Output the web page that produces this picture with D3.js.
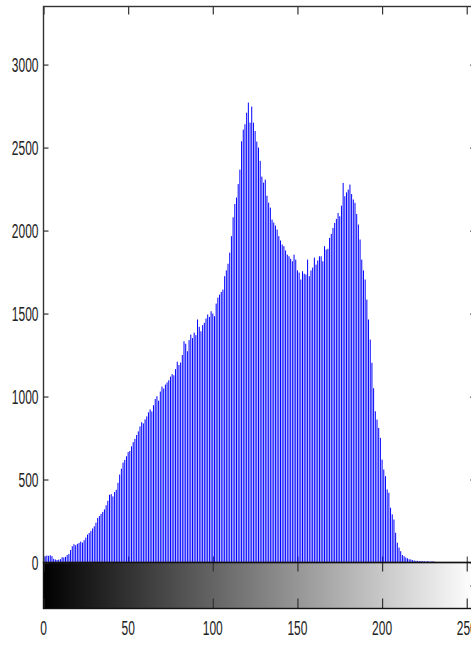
<!DOCTYPE html>
<html>
<head>
<meta charset="utf-8">
<script src="https://cdn.jsdelivr.net/npm/d3@7"></script>
<style>
  html, body { margin: 0; padding: 0; background: #fff; overflow: hidden; }
  svg { display: block; }
  .lbl { font-family: "Liberation Sans", Arial, Helvetica, sans-serif; font-size: 12px; fill: #222; }
</style>
</head>
<body>
<svg id="chart" width="471" height="646"></svg>
<script>
// Grey-level histogram: pixel counts for intensities 0..255
const levels = d3.range(256);
const counts = [
  25, 38, 42, 40, 44, 38, 22, 18, 15, 17,
  20, 32, 30, 34, 45, 52, 75, 98, 110, 104,
  112, 118, 126, 120, 134, 150, 168, 178, 190, 205,
  218, 240, 268, 280, 292, 305, 320, 345, 372, 408,
  412, 398, 425, 438, 480, 530, 565, 602, 618, 640,
  665, 672, 700, 725, 745, 768, 790, 820, 845, 838,
  862, 880, 905, 922, 910, 948, 985, 1002, 975, 1030,
  1060, 1048, 1072, 1085, 1098, 1120, 1135, 1128, 1165, 1210,
  1190, 1205, 1250, 1333, 1318, 1273, 1340, 1373, 1352, 1385,
  1370, 1464, 1420, 1393, 1430, 1444, 1470, 1494, 1480, 1514,
  1500, 1484, 1560, 1596, 1614, 1630, 1644, 1725, 1760, 1800,
  1867, 1966, 2080, 2160, 2199, 2280, 2367, 2538, 2608, 2640,
  2710, 2771, 2650, 2747, 2650, 2600, 2536, 2500, 2420, 2325,
  2289, 2307, 2210, 2168, 2138, 2066, 2048, 2030, 2006, 1966,
  1940, 1916, 1906, 1880, 1855, 1845, 1830, 1815, 1855, 1825,
  1760, 1747, 1705, 1755, 1740, 1735, 1825, 1725, 1760, 1777,
  1837, 1795, 1820, 1845, 1845, 1815, 1906, 1885, 1890, 1956,
  1980, 2016, 2046, 2070, 2106, 2086, 2150, 2287, 2207, 2230,
  2247, 2277, 2220, 2187, 2167, 2100, 2036, 1946, 1825, 1760,
  1705, 1584, 1464, 1343, 1203, 1050, 911, 861, 811, 751,
  620, 560, 520, 440, 420, 330, 290, 259, 179, 119,
  90, 68, 45, 38, 30, 25, 20, 18, 14, 12,
  10, 10, 8, 9, 8, 7, 6, 8, 5, 6,
  7, 5, 3, 2, 1, 1, 0, 0, 0, 0,
  0, 0, 0, 0, 0, 0, 0, 0, 0, 0,
  0, 0, 0, 0, 0, 0
];
const xTickValues = [0, 50, 100, 150, 200, 250];
const yTickValues = [0, 500, 1000, 1500, 2000, 2500, 3000];
const yMax = 3350;

const svg = d3.select("#chart");
const plotLeft = 43.5, plotRight = 475.2, plotTop = 6.5, base = 562.5, barBottom = 608.5;
const textStretch = 1.7;

const x = d3.scaleLinear().domain([0, 255]).range([plotLeft, plotRight]);
const y = d3.scaleLinear().domain([0, yMax]).range([base, plotTop]);

// grey ramp under the histogram
const defs = svg.append("defs");
const grad = defs.append("linearGradient").attr("id", "greyRamp")
  .attr("gradientUnits", "userSpaceOnUse")
  .attr("x1", x(0)).attr("x2", x(255)).attr("y1", 0).attr("y2", 0);
grad.append("stop").attr("offset", 0).attr("stop-color", "#000");
grad.append("stop").attr("offset", 1).attr("stop-color", "#fff");

svg.append("rect")
  .attr("x", x(0)).attr("y", base)
  .attr("width", x(255) - x(0)).attr("height", barBottom - base)
  .attr("fill", "url(#greyRamp)");

// histogram axes box ticks (inward)
const axisStyle = (w) => g => {
  g.select(".domain").remove();
  g.selectAll(".tick line").attr("stroke", "#333").attr("stroke-width", w);
};
svg.append("g").attr("transform", `translate(0,${base})`)
  .call(d3.axisBottom(x).tickValues(xTickValues).tickSize(-6).tickFormat(""))
  .call(axisStyle(1));
svg.append("g").attr("transform", `translate(0,${plotTop})`)
  .call(d3.axisTop(x).tickValues(xTickValues).tickSize(-8).tickFormat(""))
  .call(axisStyle(1.2));
svg.append("g").attr("transform", `translate(${plotLeft},0)`)
  .call(d3.axisLeft(y).tickValues(yTickValues).tickSize(-5).tickFormat(""))
  .call(axisStyle(1.2));
svg.append("g").attr("transform", `translate(${plotRight},0)`)
  .call(d3.axisRight(y).tickValues(yTickValues).tickSize(-5).tickFormat(""))
  .call(axisStyle(1.2));

// stems
svg.append("g")
  .selectAll("line")
  .data(levels)
  .join("line")
  .attr("x1", d => x(d)).attr("x2", d => x(d))
  .attr("y1", y(0)).attr("y2", d => y(counts[d]))
  .attr("stroke", "#0000ff")
  .attr("stroke-width", 1);

// colour bar ticks, top and bottom, pointing inward
const cbar = svg.append("g");
cbar.append("g").attr("transform", `translate(0,${base})`)
  .call(d3.axisTop(x).tickValues(xTickValues).tickSize(-9).tickFormat(""))
  .call(axisStyle(1.2));
cbar.append("g").attr("transform", `translate(0,${barBottom})`)
  .call(d3.axisBottom(x).tickValues(xTickValues).tickSize(-10).tickFormat(""))
  .call(axisStyle(1.2));
const yBar = d3.scaleLinear().domain([0, 1]).range([barBottom, base]);
cbar.append("g").attr("transform", `translate(${plotRight},0)`)
  .call(d3.axisRight(yBar).tickValues([0.5]).tickSize(-5).tickFormat(""))
  .call(axisStyle(1.2));

// frames
svg.append("rect")
  .attr("x", plotLeft).attr("y", plotTop)
  .attr("width", plotRight - plotLeft).attr("height", base - plotTop)
  .attr("fill", "none").attr("stroke", "#333").attr("stroke-width", 1.4);
svg.append("rect")
  .attr("x", plotLeft).attr("y", base)
  .attr("width", plotRight - plotLeft).attr("height", barBottom - base)
  .attr("fill", "none").attr("stroke", "#111").attr("stroke-width", 1.4);

// tick labels (tall, narrow glyphs)
svg.append("g").selectAll("text")
  .data(yTickValues)
  .join("text")
  .attr("class", "lbl")
  .attr("text-anchor", "end")
  .attr("transform", d => `translate(38.5,${y(d) + 7.3}) scale(1,${textStretch})`)
  .text(d => d);

svg.append("g").selectAll("text")
  .data(xTickValues)
  .join("text")
  .attr("class", "lbl")
  .attr("text-anchor", "middle")
  .attr("transform", d => `translate(${x(d)},635) scale(1,${textStretch})`)
  .text(d => d);
</script>
</body>
</html>
